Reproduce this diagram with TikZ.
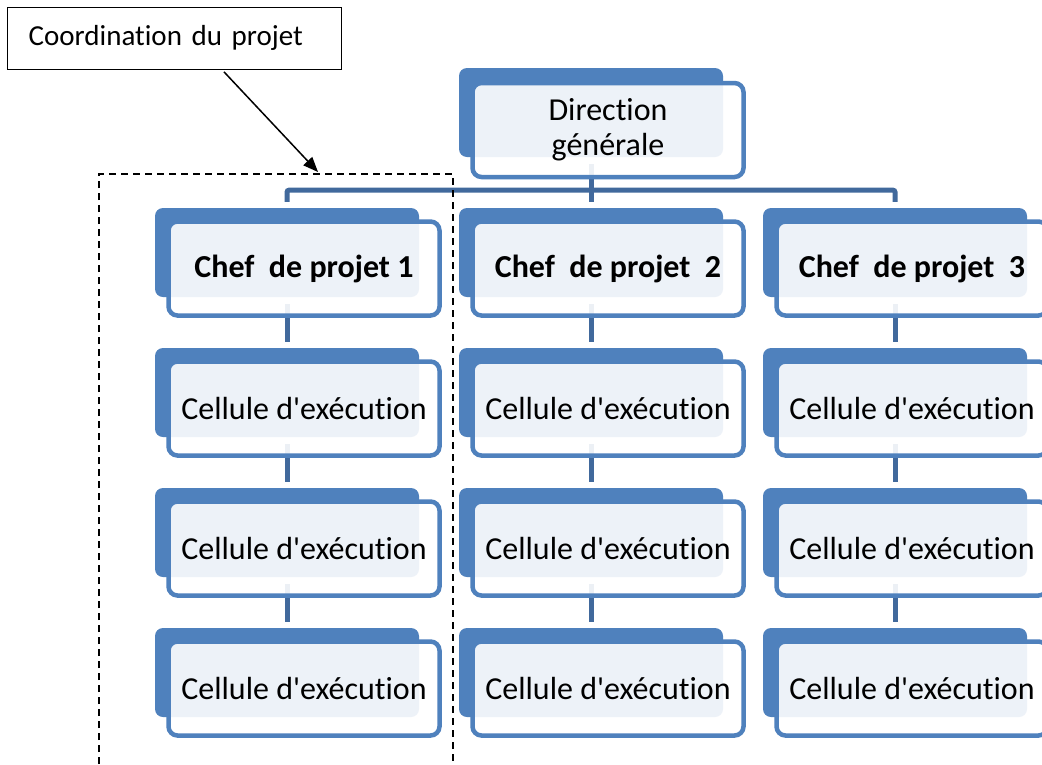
\documentclass[tikz,border=0pt]{standalone}
\usepackage{fontspec}
\setmainfont{Carlito}[Ligatures=NoCommon]
\usetikzlibrary{arrows.meta,calc}
\definecolor{accent}{HTML}{4F81BD}
\definecolor{conn}{HTML}{41699C}
\newcommand{\apos}{\textquotesingle}
\begin{document}
\begin{tikzpicture}[x=1pt,y=-1pt,
  backbox/.style={rectangle, rounded corners=8pt, fill=accent, minimum width=264pt, minimum height=89pt, inner sep=0pt},
  frontbox/.style={rectangle, rounded corners=9pt, draw=accent, line width=4.5pt, fill=white, fill opacity=0.9, draw opacity=1, text opacity=1, minimum width=271pt, minimum height=94pt, inner sep=0pt, font=\fontsize{32}{35}\selectfont, align=center},
  chefbox/.style={frontbox, font=\fontsize{32}{35}\selectfont\bfseries},
  link/.style={draw=conn, line width=5pt},
  callout/.style={draw=black, line width=1.3pt, fill=white, anchor=north west, inner xsep=21pt, inner ysep=0pt, text width=292pt, minimum height=62pt, align=left, font=\fontsize{29}{33}\selectfont},
  dashbox/.style={draw=black, line width=1.5pt, dash pattern=on 7pt off 5pt},
  pointer/.style={draw=black, line width=1.5pt, -{Triangle[length=15pt,width=12pt]}}
]
\clip (0,0) rectangle (1042,764);
\fill[white] (0,0) rectangle (1042,764);

% back boxes
\node[backbox] (bD) at (591,112.5) {};
\foreach \c/\x in {1/287,2/591,3/895}{
  \foreach \r/\y in {1/252.5,2/392.5,3/532.5,4/672.5}{
    \node[backbox] (b\c\r) at (\x,\y) {};
  }
}

% connectors
\draw[link, rounded corners=2pt] ([yshift=6pt]b11.north) |- ([yshift=-33pt]bD.south) -| ([yshift=6pt]b31.north);
\draw[link] ([yshift=-7pt]bD.south) -- ([yshift=6pt]b21.north);
\foreach \c in {1,2,3}{
  \draw[link] ([yshift=-7pt]b\c1.south) -- ([yshift=6pt]b\c2.north);
  \draw[link] ([yshift=-7pt]b\c2.south) -- ([yshift=6pt]b\c3.north);
  \draw[link] ([yshift=-7pt]b\c3.south) -- ([yshift=6pt]b\c4.north);
}

% front boxes
\node[frontbox, yshift=-1.5pt] (fD) at (608,128.5) {Direction\\générale};
\node[chefbox] (f11) at (304,268.5) {Chef\ \ de projet 1};
\node[chefbox] (f21) at (608,268.5) {Chef\ \ de projet\ \ 2};
\node[chefbox] (f31) at (912,268.5) {Chef\ \ de projet\ \ 3};
\foreach \c/\x in {1/304,2/608,3/912}{
  \foreach \r/\y in {2/408.5,3/548.5,4/688.5}{
    \node[frontbox] (f\c\r) at (\x,\y) {Cellule d\apos exécution};
  }
}

% dashed frame
\coordinate (dBL) at (99,764);
\coordinate (dTL) at (99,174);
\coordinate (dTR) at (453,174);
\coordinate (dBR) at (453,764);
\draw[dashbox] (dBL) -- (dTL) -- (dTR) -- (dBR);

% callout
\node[callout] (coord) at (7,6.5) {Coordination du projet};
\coordinate (tip) at (318,172);
\draw[pointer] ([yshift=-2pt]$(coord.south west)!0.647!(coord.south east)$) -- (tip);
\end{tikzpicture}
\end{document}
